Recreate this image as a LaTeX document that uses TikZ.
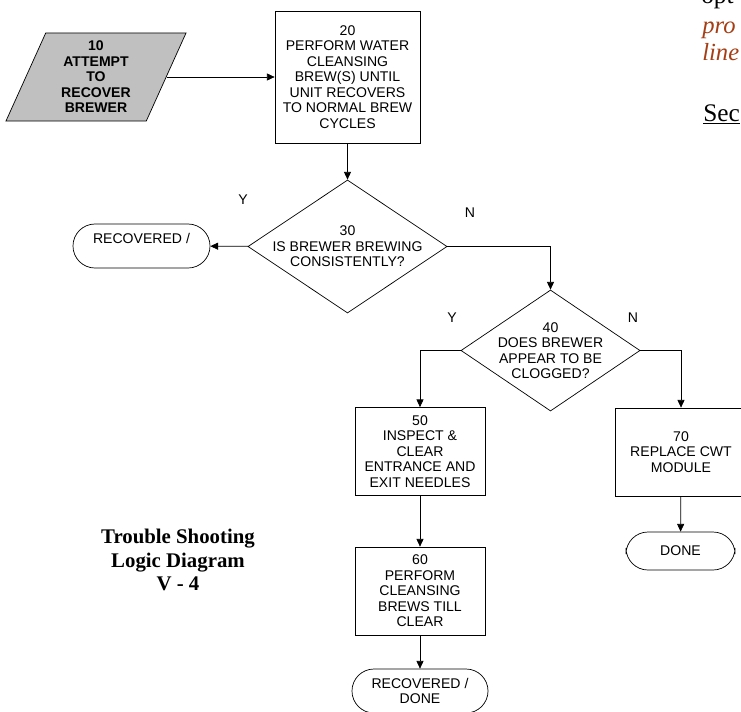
\documentclass[tikz,border=0pt]{standalone}
\usepackage{fontspec}
\setmainfont{Liberation Serif}
\setsansfont{Liberation Sans}
\usepackage{xcolor}
\definecolor{inputgray}{RGB}{192, 192, 192}
\definecolor{rust}{RGB}{165, 62, 20}
\usepackage{tikz}
\usetikzlibrary{shapes.geometric,arrows.meta,positioning,calc}

\begin{document}
\begin{tikzpicture}[
  x=0.025cm, y=-0.025cm,
  every node/.style={font=\fontsize{10}{11}\selectfont\sffamily, align=center},
  stepbox/.style={draw, line width=0.5pt, inner sep=0pt, minimum width=3.25cm, minimum height=2.2cm},
  inputbox/.style={draw, fill=inputgray, line width=0.5pt, trapezium, trapezium left angle=61, trapezium right angle=119,
    trapezium stretches body, minimum width=4.5cm, minimum height=2.2cm, inner sep=0pt,
    font=\fontsize{10}{11}\selectfont\sffamily\bfseries},
  decision/.style={draw, diamond, line width=0.5pt, inner sep=-14pt, aspect=1.5},
  endbox/.style={draw, rectangle, rounded corners=0.55cm, line width=0.5pt, minimum height=1.1cm, inner sep=0pt},
  yn/.style={font=\fontsize{10}{11}\selectfont\sffamily},
  pagetext/.style={font=\fontsize{18}{19}\selectfont\rmfamily, anchor=base west, inner sep=0pt},
  arrow/.style={-{Triangle[length=5.5pt, width=5pt]}, line width=0.5pt}
]
\useasboundingbox (0,0) rectangle (741,711);
\clip (0,0) rectangle (741,711);

% Flow chart steps
\node[inputbox] (attempt) at (96, 77) {10\\ATTEMPT\\TO\\RECOVER\\BREWER};
\node[stepbox, minimum width=3.625cm, minimum height=3.3cm] (cleanse) at (347.5, 77) {20\\PERFORM WATER\\CLEANSING\\BREW(S) UNTIL\\UNIT RECOVERS\\TO NORMAL BREW\\CYCLES};
\node[decision, minimum width=4.975cm, minimum height=3.325cm] (brewing) at (347.5, 246.5) {30\\IS BREWER BREWING\\CONSISTENTLY?};
\node[endbox, minimum width=3.425cm] (recovered) at (141.5, 246) {RECOVERED /\\\phantom{X}};
\node[decision, minimum width=4.475cm, minimum height=3.025cm] (clogged) at (550.5, 350.5) {40\\DOES BREWER\\APPEAR TO BE\\CLOGGED?};
\node[stepbox] (needles) at (420, 451.5) {50\\INSPECT \&\\CLEAR\\ENTRANCE AND\\EXIT NEEDLES};
\node[stepbox, minimum width=3.3cm] (replace) at (681, 452) {70\\REPLACE CWT\\MODULE};
\node[endbox, minimum width=2.725cm, minimum height=0.95cm] (done) at (680.5, 551) {DONE};
\node[stepbox] (clear) at (420, 591) {60\\PERFORM\\CLEANSING\\BREWS TILL\\CLEAR};
\node[endbox, minimum width=3.4cm] (recdone) at (420, 691) {RECOVERED /\\DONE};

% Branch labels
\node[yn] (y30) at (243, 200) {Y};
\node[yn] (n30) at (470, 213) {N};
\node[yn] (y40) at (452, 318) {Y};
\node[yn] (n40) at (633, 318) {N};

% Title
\node[font=\fontsize{14.8}{16.7}\selectfont\rmfamily\bfseries] (title) at (178, 560) {Trouble Shooting\\Logic Diagram\\V - 4};

% Cut-off page text on the right
\node[pagetext] (pagetop) at (701, 3) {opt};
\node[pagetext, font=\fontsize{17.5}{19}\selectfont\rmfamily\itshape, text=rust] (pagepro) at (702, 33) {pro};
\node[pagetext, font=\fontsize{17.5}{19}\selectfont\rmfamily\itshape, text=rust] (pageline) at (702, 60) {line};
\node[pagetext] (pagesec) at (703, 121) {\underline{Sec}};

% Connections
\draw[arrow] (attempt.east) -- (cleanse.west |- attempt.east);
\draw[arrow] (cleanse) -- (brewing);
\draw[arrow] (brewing) -- (recovered);
\draw[arrow] (brewing.east) -| (clogged.north);
\draw[arrow] (clogged.west) -| (needles.north);
\draw[arrow] (clogged.east) -| (replace.north);
\draw[arrow] (replace) -- (done);
\draw[arrow] (needles) -- (clear);
\draw[arrow] (clear) -- (recdone);

\end{tikzpicture}
\end{document}
